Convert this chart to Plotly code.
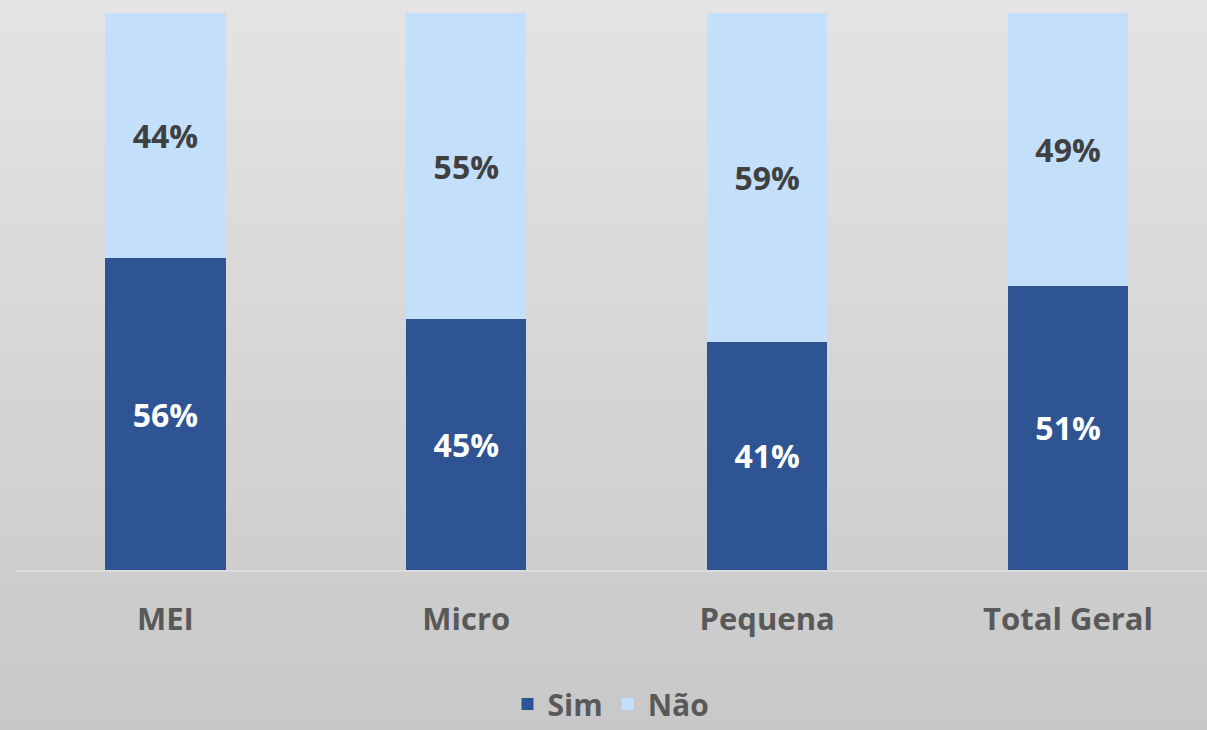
import plotly.graph_objects as go

categories = ["MEI", "Micro", "Pequena", "Total Geral"]
sim = [56, 45, 41, 51]
nao = [44, 55, 59, 49]
sim_labels = ["56%", "45%", "41%", "51%"]
nao_labels = ["44%", "55%", "59%", "49%"]

W, H = 1207, 730
ML, MR, MT, MB = 14.5, 0, 13, 160
FONT = "Open Sans"

fig = go.Figure()
fig.add_trace(go.Bar(
    x=categories, y=sim, name="Sim", marker=dict(color="#2E5494", line=dict(width=0)),
    text=sim_labels, textposition="inside", insidetextanchor="middle",
    textfont=dict(family=FONT, size=32, color="#FFFFFF", weight="bold"),
    hoverinfo="skip",
))
fig.add_trace(go.Bar(
    x=categories, y=nao, name="Não", marker=dict(color="#C3DFFA", line=dict(width=0)),
    text=nao_labels, textposition="inside", insidetextanchor="middle",
    textfont=dict(family=FONT, size=32, color="#404040", weight="bold"),
    hoverinfo="skip",
))

# background vertical gradient (styling)
plot_h = H - MT - MB
plot_w = W - ML - MR
n = 60
top = (228, 228, 228)
bot = (200, 200, 200)
shapes = []
for i in range(n):
    py0 = H * i / n - 1
    py1 = H * (i + 1) / n + 1
    t = (i + 0.5) / n
    c = tuple(round(top[k] + (bot[k] - top[k]) * t) for k in range(3))
    shapes.append(dict(
        type="rect", xref="paper", yref="paper", layer="below",
        x0=-ML / plot_w - 0.01, x1=1.01,
        y0=(H - MB - py1) / plot_h, y1=(H - MB - py0) / plot_h,
        fillcolor="rgb(%d,%d,%d)" % c, line=dict(width=0),
    ))

span = plot_w / 301.0
fig.update_layout(
    width=W, height=H,
    barmode="stack", bargap=0.6,
    margin=dict(l=ML, r=MR, t=MT, b=MB, pad=0, autoexpand=False),
    paper_bgcolor="rgb(214,214,214)", plot_bgcolor="rgba(0,0,0,0)",
    shapes=shapes,
    font=dict(family=FONT, color="#595959"),
    xaxis=dict(
        range=[-0.5, -0.5 + span], showgrid=False, zeroline=False,
        showline=True, linecolor="#DCDCDC", linewidth=2,
        tickfont=dict(family=FONT, size=31, color="#595959", weight="bold"),
        ticks="", ticklabelstandoff=21, fixedrange=True,
    ),
    yaxis=dict(range=[0, 100], visible=False, fixedrange=True),
    showlegend=True,
    legend=dict(
        orientation="h", x=0.5, xanchor="center",
        yref="container", y=1 - 704 / H, yanchor="middle",
        font=dict(family=FONT, size=30, color="#595959", weight="bold"),
        bgcolor="rgba(0,0,0,0)", traceorder="normal", itemwidth=30,
    ),
    uniformtext=dict(mode=False),
)

fig.write_html(
    "out.html",
    config={"displayModeBar": False},
    post_script="document.body.style.margin='0px';document.body.style.overflow='hidden';",
)
